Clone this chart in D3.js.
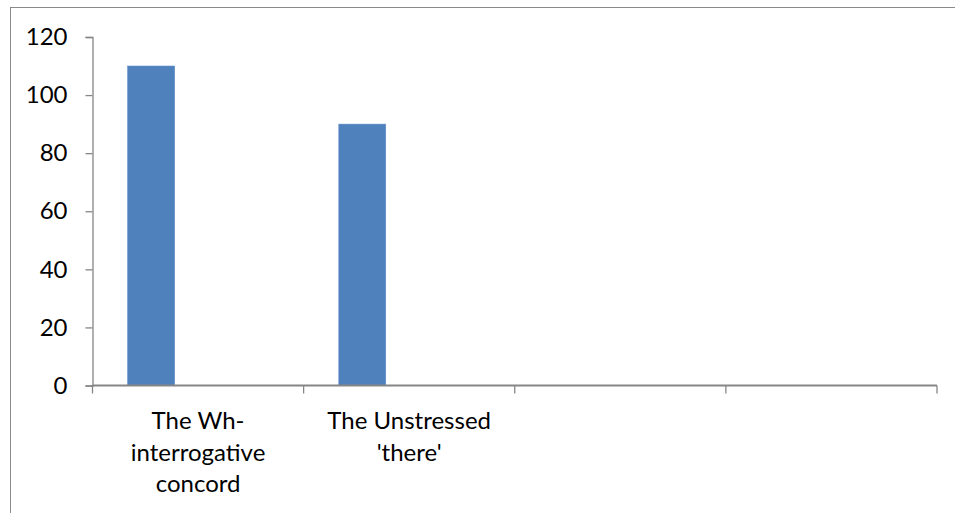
<!DOCTYPE html>
<html>
<head>
<meta charset="utf-8">
<script src="https://cdn.jsdelivr.net/npm/d3@7"></script>
<style>
  html, body { margin: 0; padding: 0; background: #fff; }
  svg { display: block; }
  text { font-family: Lato, "Open Sans", sans-serif; fill: #000; }
</style>
</head>
<body>
<svg id="chart" width="955" height="513"></svg>
<script>
// ---- data ----
const categories = [
  ["The Wh-", "interrogative", "concord"],
  ["The Unstressed", "'there'"],
  [""],
  [""]
];
const seriesNames = ["Series 1", "Series 2", "Series 3"];
const series1 = [110, 90, null, null];
const series2 = [null, null, null, null];
const series3 = [null, null, null, null];
const yTicks = [0, 20, 40, 60, 80, 100, 120];

const seriesValues = [series1, series2, series3];
const W = 955, H = 513;
const margin = { left: 92.5, right: 18, top: 37, bottom: 127.5 };
const svg = d3.select("#chart");

// outer frame
svg.append("rect")
  .attr("x", 10.5).attr("y", 7.5)
  .attr("width", 1000).attr("height", 1000)
  .attr("fill", "none").attr("stroke", "#898989").attr("stroke-width", 1);

const plotL = margin.left, plotR = W - margin.right;
const plotT = margin.top, plotB = H - margin.bottom;

const x0 = d3.scaleBand()
  .domain(d3.range(categories.length))
  .range([plotL, plotR])
  .paddingInner(0).paddingOuter(0);

// clustered bars, gap width 150% (half the gap on each side of the cluster)
const x1 = d3.scaleBand()
  .domain(seriesNames)
  .range([0, x0.bandwidth()])
  .paddingInner(0)
  .paddingOuter(0.75);

const y = d3.scaleLinear().domain([0, 120]).range([plotB, plotT]);

// bars
const barData = [];
seriesValues.forEach((vals, si) => {
  vals.forEach((v, ci) => {
    if (v !== null) barData.push({ ci, s: seriesNames[si], v });
  });
});
svg.append("g").selectAll("rect")
  .data(barData)
  .join("rect")
  .attr("x", d => x0(d.ci) + x1(d.s))
  .attr("y", d => y(d.v))
  .attr("width", x1.bandwidth())
  .attr("height", d => y(0) - y(d.v))
  .attr("fill", "#4F81BD")
  .attr("stroke", "#5A8AC6").attr("stroke-width", 0.6);

// y axis
const yAxis = svg.append("g")
  .attr("transform", `translate(${plotL},0)`)
  .call(d3.axisLeft(y).tickValues(yTicks).tickSize(7).tickPadding(18).tickFormat(d3.format("d")));
yAxis.select(".domain").attr("stroke", "#868686").attr("stroke-width", 1.3);
yAxis.selectAll(".tick line").attr("stroke", "#868686").attr("stroke-width", 1.3);
yAxis.selectAll(".tick text")
  .attr("font-size", 24).attr("fill", "#000")
  .style("font-family", "Lato, 'Open Sans', sans-serif");

// x axis
const xAxisG = svg.append("g").attr("transform", `translate(0,${plotB})`);
xAxisG.append("line")
  .attr("x1", plotL).attr("x2", plotR)
  .attr("y1", 0).attr("y2", 0)
  .attr("stroke", "#868686").attr("stroke-width", 2);
const boundaries = d3.range(categories.length + 1).map(i =>
  i < categories.length ? x0(i) : x0(categories.length - 1) + x0.bandwidth());
xAxisG.selectAll("line.tk")
  .data(boundaries)
  .join("line")
  .attr("class", "tk")
  .attr("x1", d => d).attr("x2", d => d)
  .attr("y1", 0).attr("y2", 8)
  .attr("stroke", "#868686").attr("stroke-width", 1.3);

// category labels
categories.forEach((lines, ci) => {
  const cx = x0(ci) + x0.bandwidth() / 2;
  const t = svg.append("text")
    .attr("text-anchor", "middle")
    .attr("font-size", 24);
  lines.forEach((ln, li) => {
    t.append("tspan")
      .attr("x", cx)
      .attr("y", 429 + li * 31.5)
      .text(ln);
  });
});
</script>
</body>
</html>
